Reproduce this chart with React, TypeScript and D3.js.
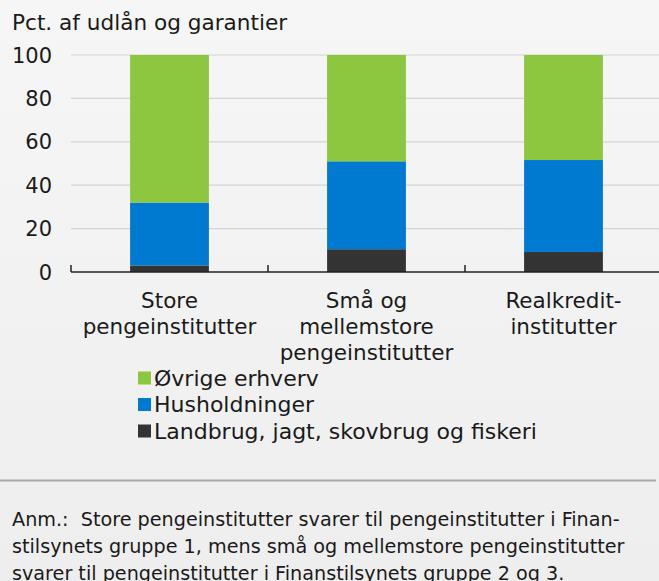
import React, { useRef, useEffect } from 'react';
import * as d3 from 'd3';

const categories = [
  ['Store', 'pengeinstitutter'],
  ['Små og', 'mellemstore', 'pengeinstitutter'],
  ['Realkredit-', 'institutter'],
];
const landbrug = [3, 10.5, 9.2];
const husholdninger = [29, 40.5, 42.4];
const ovrige = [68, 49, 48.4];
const yTicks = [0, 20, 40, 60, 80, 100];

const seriesNames = ['Øvrige erhverv', 'Husholdninger', 'Landbrug, jagt, skovbrug og fiskeri'];
const seriesColors = ['#8dc63f', '#0079d1', '#333333'];

const noteLines = [
  'Anm.:  Store pengeinstitutter svarer til pengeinstitutter i Finan-',
  'stilsynets gruppe 1, mens små og mellemstore pengeinstitutter',
  'svarer til pengeinstitutter i Finanstilsynets gruppe 2 og 3.',
];

const W = 659;
const H = 581;
const FONT = '"DejaVu Sans", sans-serif';

const App = () => {
  const chartRef = useRef<SVGSVGElement>(null);

  useEffect(() => {
    document.body.style.margin = '0';
    if (!chartRef.current) return;
    const svg = d3.select(chartRef.current).attr('width', W).attr('height', H).html('');

    const grad = svg.append('defs').append('linearGradient')
      .attr('id', 'bg').attr('x1', 0).attr('x2', 0).attr('y1', 0).attr('y2', 1);
    grad.append('stop').attr('offset', '0%').attr('stop-color', '#f6f6f6');
    grad.append('stop').attr('offset', '100%').attr('stop-color', '#eeeeee');
    svg.append('rect').attr('width', W).attr('height', H).attr('fill', 'url(#bg)');

    const margin = { top: 55, left: 71, bottom: 272 };
    const keys = ['landbrug', 'husholdninger', 'ovrige'];
    const data = categories.map((c, i) => ({
      idx: String(i),
      landbrug: landbrug[i],
      husholdninger: husholdninger[i],
      ovrige: ovrige[i],
    }));

    const x = d3.scaleBand()
      .domain(data.map(d => d.idx))
      .range([margin.left, margin.left + 197 * 3])
      .paddingInner(0.6)
      .paddingOuter(0.3);

    const y = d3.scaleLinear().domain([0, 100]).range([margin.bottom, margin.top]);

    // gridlines
    svg.append('g')
      .selectAll('line')
      .data(yTicks.filter(t => t > 0))
      .enter().append('line')
      .attr('x1', margin.left)
      .attr('x2', W)
      .attr('y1', d => y(d))
      .attr('y2', d => y(d))
      .attr('stroke', '#d4d4d4')
      .attr('stroke-width', 1.2);

    // y labels
    svg.append('g')
      .selectAll('text')
      .data(yTicks)
      .enter().append('text')
      .attr('x', 52)
      .attr('y', d => y(d))
      .attr('dy', '0.36em')
      .attr('text-anchor', 'end')
      .attr('font-family', FONT)
      .attr('font-size', 21)
      .attr('fill', '#1a1a1a')
      .text(d => d);

    const colorByKey: Record<string, string> = {
      ovrige: seriesColors[0],
      husholdninger: seriesColors[1],
      landbrug: seriesColors[2],
    };

    const stacked = d3.stack<any>().keys(keys)(data);
    svg.append('g')
      .selectAll('g')
      .data(stacked)
      .enter().append('g')
      .attr('fill', d => colorByKey[d.key])
      .selectAll('rect')
      .data(d => d)
      .enter().append('rect')
      .attr('x', d => x(d.data.idx)!)
      .attr('y', d => y(d[1]))
      .attr('width', x.bandwidth())
      .attr('height', d => y(d[0]) - y(d[1]));

    // x axis line + ticks
    const axisY = y(0);
    svg.append('line')
      .attr('x1', margin.left).attr('x2', W)
      .attr('y1', axisY).attr('y2', axisY)
      .attr('stroke', '#222').attr('stroke-width', 1.5);
    const step = x.step();
    const bounds = [0, 1, 2].map(i => margin.left + i * step);
    svg.append('g')
      .selectAll('line')
      .data(bounds)
      .enter().append('line')
      .attr('x1', d => d).attr('x2', d => d)
      .attr('y1', axisY).attr('y2', axisY - 7)
      .attr('stroke', '#222').attr('stroke-width', 1.5);

    // category labels
    const catG = svg.append('g');
    categories.forEach((lines, i) => {
      const cx = x(String(i))! + x.bandwidth() / 2;
      lines.forEach((ln, j) => {
        catG.append('text')
          .attr('x', cx)
          .attr('y', 300 + j * 26)
          .attr('dy', '0.36em')
          .attr('text-anchor', 'middle')
          .attr('font-family', FONT)
          .attr('font-size', 21.5)
          .attr('fill', '#1a1a1a')
          .text(ln);
      });
    });

    // title
    svg.append('text')
      .attr('x', 12)
      .attr('y', 22)
      .attr('dy', '0.36em')
      .attr('font-family', FONT)
      .attr('font-size', 21.6)
      .attr('fill', '#1a1a1a')
      .text('Pct. af udlån og garantier');

    // legend
    const legend = svg.append('g').attr('transform', 'translate(138, 378)');
    legend.selectAll('rect')
      .data(seriesNames)
      .enter().append('rect')
      .attr('x', 0)
      .attr('y', (_, i) => i * 26.5 - 6.5)
      .attr('width', 13)
      .attr('height', 13)
      .attr('fill', (_, i) => seriesColors[i]);
    legend.selectAll('text')
      .data(seriesNames)
      .enter().append('text')
      .attr('x', 16)
      .attr('y', (_, i) => i * 26.5)
      .attr('dy', '0.36em')
      .attr('font-family', FONT)
      .attr('font-size', 22)
      .attr('fill', '#1a1a1a')
      .text(d => d);

    // separator
    svg.append('line')
      .attr('x1', 0).attr('x2', 656)
      .attr('y1', 480.5).attr('y2', 480.5)
      .attr('stroke', '#aaaaaa').attr('stroke-width', 2);

    // note
    svg.append('g')
      .selectAll('text')
      .data(noteLines)
      .enter().append('text')
      .attr('x', 12)
      .attr('y', (_, i) => 519 + i * 27)
      .attr('dy', '0.36em')
      .attr('font-family', FONT)
      .attr('font-size', 19.2)
      .attr('fill', '#1a1a1a')
      .attr('xml:space', 'preserve')
      .style('white-space', 'pre')
      .text(d => d);
  }, []);

  return <svg ref={chartRef} style={{ display: 'block' }}></svg>;
};

export default App;
